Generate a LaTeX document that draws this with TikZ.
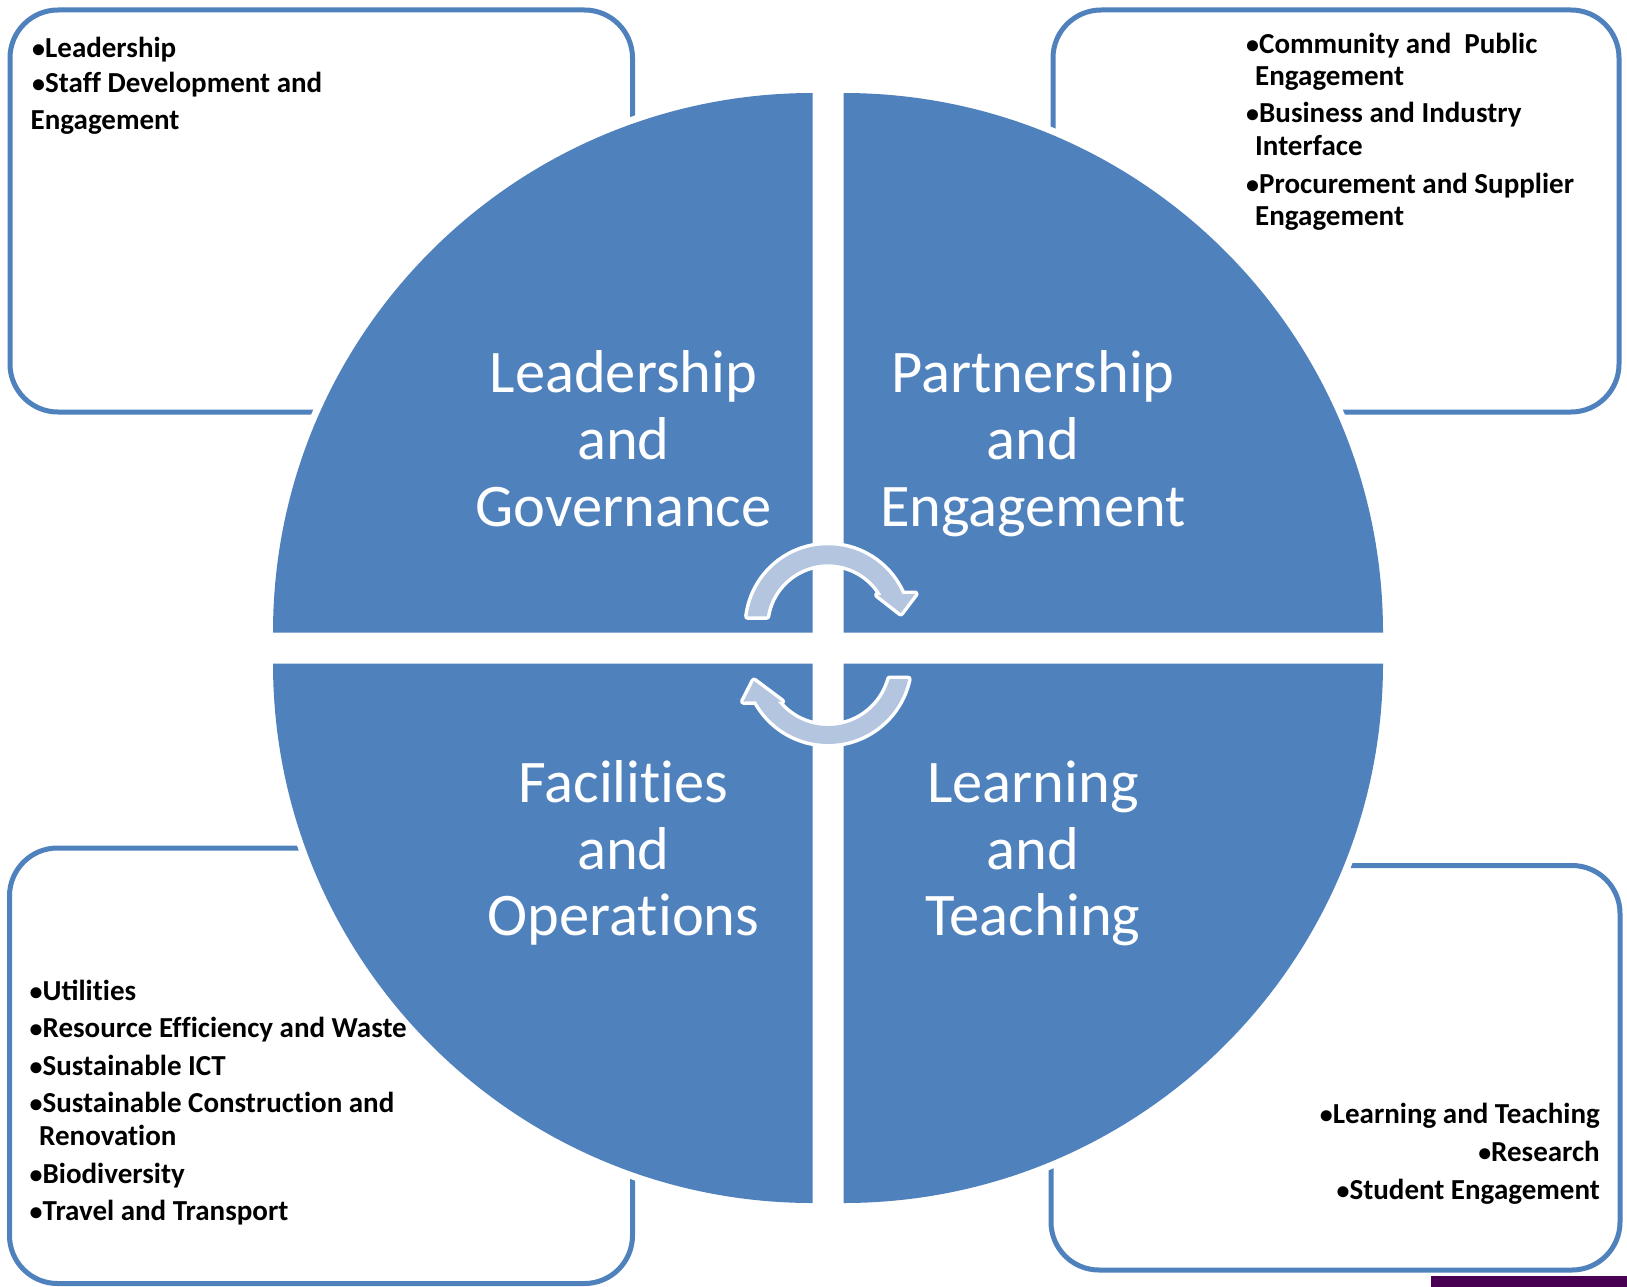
\documentclass[tikz,border=0pt]{standalone}
\usepackage{fontspec}
\setmainfont{Carlito}
\definecolor{qblue}{RGB}{79,129,189}
\definecolor{arrowfill}{RGB}{180,197,223}
\definecolor{barpurple}{RGB}{72,0,82}
\newcommand{\bul}{{\fontsize{26}{32}\selectfont •}}
\newcommand{\nolig}{\kern0pt{}}
\begin{document}
\begin{tikzpicture}[x=1pt,y=-1pt,
  boxline/.style={draw=qblue,line width=5pt,rounded corners=48pt},
  quad/.style={fill=qblue,preaction={draw=white,line width=14pt}},
  bigtxt/.style={text=white,font=\fontsize{60.5}{66.7}\selectfont,inner sep=0pt,anchor=base},
  item/.style={font=\fontsize{29}{32}\selectfont\bfseries,inner sep=0pt,anchor=base west},
  itemr/.style={item,anchor=base east},
  cycarrow/.style={fill=arrowfill,preaction={draw=white,line width=7pt,line join=round}}
]
\useasboundingbox (0,0) rectangle (1627,1287);
\fill[white] (0,0) rectangle (1627,1287);

% outer boxes
\draw[boxline] (10,10) rectangle (632.5,412);
\draw[boxline] (1053,10) rectangle (1619,412);
\draw[boxline] (9.5,848) rectangle (632.5,1283.5);
\draw[boxline] (1051,865.5) rectangle (1620,1270);

% quadrants
\path[quad] (812.5,632.5) -- ++(180:539.5) arc[start angle=180,end angle=270,radius=539.5] -- cycle;
\path[quad] (843.5,632.5) -- ++(270:539.5) arc[start angle=270,end angle=360,radius=539.5] -- cycle;
\path[quad] (843.5,663.5) -- ++(0:539.5) arc[start angle=0,end angle=90,radius=539.5] -- cycle;
\path[quad] (812.5,663.5) -- ++(90:539.5) arc[start angle=90,end angle=180,radius=539.5] -- cycle;

% big labels
\node[bigtxt] (lg1) at (623.5,392.7) {Leadership};
\node[bigtxt] (lg2) at (623.5,459.3) {and};
\node[bigtxt] (lg3) at (623.5,526) {Governance};
\node[bigtxt] (pe1) at (1033,392.7) {Partnership};
\node[bigtxt] (pe2) at (1033,459.3) {and};
\node[bigtxt] (pe3) at (1033,526) {Engagement};
\node[bigtxt] (fo1) at (623.5,802.7) {Facilit\nolig ies};
\node[bigtxt] (fo2) at (623.5,869.3) {and};
\node[bigtxt] (fo3) at (623.5,935) {Operat\nolig ions};
\node[bigtxt] (lt1) at (1033,802.7) {Learning};
\node[bigtxt] (lt2) at (1033,869.3) {and};
\node[bigtxt] (lt3) at (1033,935) {Teaching};

% list texts
\node[item] (tl1) at (32,58) {\bul Leadership};
\node[item] (tl2) at (32,92.5) {\bul Staf\nolig f Development and};
\node[item] (tl3) at (30.5,129) {Engagement};

\node[item] (tr1) at (1246,53.5) {\bul Community and\ \ Public};
\node[item] (tr2) at (1255,85.5) {Engagement};
\node[item] (tr3) at (1246,123) {\bul Business and Industry};
\node[item] (tr4) at (1255,155) {Interface};
\node[item] (tr5) at (1246,193.5) {\bul Procurement and Supplier};
\node[item] (tr6) at (1255,225) {Engagement};

\node[item] (bl1) at (29.5,1000.5) {\bul Utilit\nolig ies};
\node[item] (bl2) at (29.5,1037.5) {\bul Resource Ef\nolig f\nolig iciency and Waste};
\node[item] (bl3) at (29.5,1075.5) {\bul Sustainable ICT};
\node[item] (bl4) at (29.5,1112.5) {\bul Sustainable Construct\nolig ion and};
\node[item] (bl5) at (39,1145) {Renovat\nolig ion};
\node[item] (bl6) at (29.5,1183.5) {\bul Biodiversity};
\node[item] (bl7) at (29.5,1220.5) {\bul Travel and Transport};

\node[itemr] (br1) at (1600,1123.5) {\bul Learning and Teaching};
\node[itemr] (br2) at (1600,1161.5) {\bul Research};
\node[itemr] (br3) at (1600,1199) {\bul Student Engagement};

% circular arrows
\path[cycarrow] (747.6,616.4) arc[start angle=187,end angle=336.7,radius=81]
  -- (915,594) -- (900.7,613) -- (877.7,595) -- (881.5,595)
  arc[start angle=329.7,end angle=189.3,radius=62] -- cycle;
\path[cycarrow] (908.2,679) arc[start angle=12,end angle=151.2,radius=82]
  -- (743.5,701.5) -- (754,681) -- (781.5,701.5) -- (777.6,701.5)
  arc[start angle=141.9,end angle=15.4,radius=64] -- cycle;

% purple bar
\fill[barpurple] (1431,1276) rectangle (1627,1287);
\end{tikzpicture}
\end{document}
